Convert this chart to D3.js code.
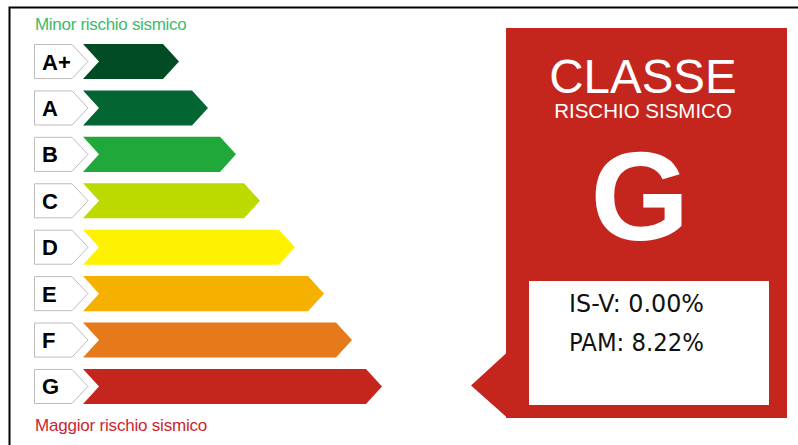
<!DOCTYPE html>
<html>
<head>
<meta charset="utf-8">
<script src="https://cdn.jsdelivr.net/npm/d3@7"></script>
<style>
  body { margin: 0; background: #fff; }
  svg { display: block; }
</style>
</head>
<body>
<div id="chart"></div>
<script>
// classi di rischio sismico
const classes = ["A+", "A", "B", "C", "D", "E", "F", "G"];
const barValues = [96, 125, 153, 177, 212, 241, 269, 299];
const colors = ["#024c24", "#026532", "#21a83b", "#bcd900", "#fff200", "#f5b000", "#e67a1a", "#c4261e"];
const currentClass = "G";
const infoLabels = ["IS-V: 0.00%", "PAM: 8.22%"];
const topLabel = "Minor rischio sismico";
const bottomLabel = "Maggior rischio sismico";

const width = 798, height = 445;

const svg = d3.select("#chart")
  .append("svg")
  .attr("width", width)
  .attr("height", height);

// frame
svg.append("path")
  .attr("d", `M9.5,${height} V7.5 H${width}`)
  .attr("fill", "none")
  .attr("stroke", "#000")
  .attr("stroke-width", 2);

const y = d3.scaleBand()
  .domain(classes)
  .range([44, 404])
  .paddingInner(0.245)
  .paddingOuter(0);

const x = d3.scaleLinear().domain([0, 300]).range([0, 300]);

const barX = 83, notch = 16, tipW = 16;

const rows = svg.selectAll("g.row")
  .data(classes)
  .enter()
  .append("g")
  .attr("class", "row")
  .attr("transform", (d) => `translate(0,${y(d)})`);

const h = y.bandwidth();

// label box with arrow
rows.append("path")
  .attr("d", `M34.5,0.5 H72 L88,${h / 2} L72,${h - 0.5} H34.5 Z`)
  .attr("fill", "#fff")
  .attr("stroke", "#bdbdbd")
  .attr("stroke-width", 1);

rows.append("text")
  .attr("x", 42)
  .attr("y", h / 2 + 8)
  .attr("font-family", "Liberation Sans, Arial, sans-serif")
  .attr("font-weight", "bold")
  .attr("font-size", 22)
  .attr("fill", "#000")
  .text((d) => d);

// bars
rows.append("path")
  .attr("d", (d, i) => {
    const w = x(barValues[i]);
    return `M${barX},0 H${barX + w - tipW} L${barX + w},${h / 2} L${barX + w - tipW},${h} H${barX} L${barX + notch},${h / 2} Z`;
  })
  .attr("fill", (d, i) => colors[i]);

svg.append("text")
  .attr("x", 35)
  .attr("y", 30)
  .attr("font-family", "Liberation Sans, Arial, sans-serif")
  .attr("font-size", 17)
  .attr("letter-spacing", -0.3)
  .attr("fill", "#3dba6a")
  .text(topLabel);

svg.append("text")
  .attr("x", 35)
  .attr("y", 431)
  .attr("font-family", "Liberation Sans, Arial, sans-serif")
  .attr("font-size", 17)
  .attr("letter-spacing", -0.2)
  .attr("fill", "#c9262f")
  .text(bottomLabel);

// class panel
const ci = classes.indexOf(currentClass);
const panelColor = colors[ci];
const pointerY = y(currentClass) + h / 2 - 1;

const panel = svg.append("g");
panel.append("rect")
  .attr("x", 506).attr("y", 28)
  .attr("width", 281).attr("height", 390)
  .attr("fill", panelColor);

panel.append("path")
  .attr("d", `M507,${pointerY - 33} L471,${pointerY} L507,${pointerY + 32} Z`)
  .attr("fill", panelColor);

panel.append("text")
  .attr("x", 643).attr("y", 93)
  .attr("text-anchor", "middle")
  .attr("font-family", "Liberation Sans, Arial, sans-serif")
  .attr("font-size", 47.5)
  .attr("fill", "#fff")
  .text("CLASSE");

panel.append("text")
  .attr("x", 643).attr("y", 117.5)
  .attr("text-anchor", "middle")
  .attr("font-family", "Liberation Sans, Arial, sans-serif")
  .attr("font-size", 20.5)
  .attr("fill", "#fff")
  .text("RISCHIO SISMICO");

panel.append("text")
  .attr("x", 640).attr("y", 240)
  .attr("text-anchor", "middle")
  .attr("font-family", "Liberation Sans, Arial, sans-serif")
  .attr("font-weight", "bold")
  .attr("font-size", 127)
  .attr("fill", "#fff")
  .text(currentClass);

panel.append("rect")
  .attr("x", 529).attr("y", 281)
  .attr("width", 240).attr("height", 124)
  .attr("fill", "#fff");

panel.selectAll("text.info")
  .data(infoLabels)
  .enter()
  .append("text")
  .attr("class", "info")
  .attr("x", 569)
  .attr("y", (d, i) => 312 + i * 39)
  .attr("font-family", "DejaVu Sans, sans-serif")
  .attr("font-size", 24)
  .attr("textLength", 135)
  .attr("lengthAdjust", "spacingAndGlyphs")
  .attr("fill", "#111")
  .text((d) => d);
</script>
</body>
</html>
